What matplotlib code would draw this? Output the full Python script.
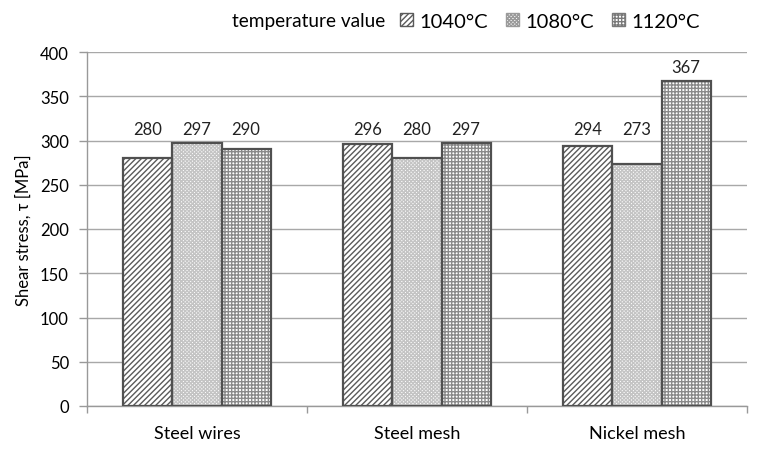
import matplotlib
matplotlib.use('Agg')
import matplotlib.pyplot as plt
import numpy as np
from matplotlib.patches import Patch

# 數據
categories = ['Steel wires', 'Steel mesh', 'Nickel mesh']
series_names = ['1040°C', '1080°C', '1120°C']
values_1040 = [280, 296, 294]
values_1080 = [297, 280, 273]
values_1120 = [290, 297, 367]
y_ticks = [0, 50, 100, 150, 200, 250, 300, 350, 400]

plt.rcParams['font.family'] = ['Lato', 'DejaVu Sans']
plt.rcParams['hatch.linewidth'] = 1.0

fig = plt.figure(figsize=(7.67, 4.52), dpi=100)
ax = fig.add_axes([87 / 767, 1 - 407 / 452, 660 / 767, 354 / 452])

x = np.arange(len(categories))
w = 0.223
styles = [
    # (hatch, hatch colour)
    ('//////', '#5a5a5a'),
    ('xxxxxxxxx', '#c4c4c4'),
    ('+++++', '#8a8a8a'),
]
all_values = [values_1040, values_1080, values_1120]
label_level = 297  # 數值標籤的最低高度

for i, (vals, (hatch, hcol)) in enumerate(zip(all_values, styles)):
    pos = x + (i - 1) * w
    ax.bar(pos, vals, w, color='white', edgecolor=hcol, hatch=hatch, linewidth=0, zorder=2)
    ax.bar(pos, vals, w, fill=False, edgecolor='#505050', linewidth=1.6, zorder=3)
    for px, v in zip(pos, vals):
        ax.text(px, max(v, label_level) + 16, str(v), ha='center', va='center',
                fontsize=12, color='#222222')

ax.set_ylim(0, 400)
ax.set_xlim(-0.5, len(categories) - 0.5)
ax.set_yticks(y_ticks)
ax.set_xticks(x)
ax.set_xticklabels(categories, fontsize=13)
ax.tick_params(axis='x', length=0, pad=14)
ax.set_xticks(np.arange(len(categories) + 1) - 0.5, minor=True)
ax.tick_params(axis='x', which='minor', length=5, color='#999999', width=1)
ax.tick_params(axis='y', length=6, color='#999999', width=1, labelsize=12, pad=7)
ax.yaxis.grid(True, color='#a8a8a8', linewidth=1)
ax.set_axisbelow(True)
for s in ['top', 'right']:
    ax.spines[s].set_visible(False)
for s in ['left', 'bottom']:
    ax.spines[s].set_color('#999999')
    ax.spines[s].set_linewidth(1)
ax.set_ylabel('Shear stress, τ [MPa]', fontsize=12, labelpad=6)

# 圖例
fig.text(232 / 767, 1 - 22 / 452, 'temperature value', fontsize=13.7, va='center', ha='left')
handles = [Patch(facecolor='white', edgecolor='#5a5a5a', hatch='//////', linewidth=1),
           Patch(facecolor='white', edgecolor='#9a9a9a', hatch='xxxxxxxxx', linewidth=1),
           Patch(facecolor='white', edgecolor='#7a7a7a', hatch='+++++', linewidth=1)]
fig.legend(handles, series_names, loc='center left', bbox_to_anchor=(400 / 767, 1 - 22 / 452),
           ncol=3, frameon=False, fontsize=14.5, handlelength=0.65, handleheight=0.65,
           handletextpad=0.3, columnspacing=0.9, borderaxespad=0, borderpad=0)

fig.savefig('out.png', dpi=100)
